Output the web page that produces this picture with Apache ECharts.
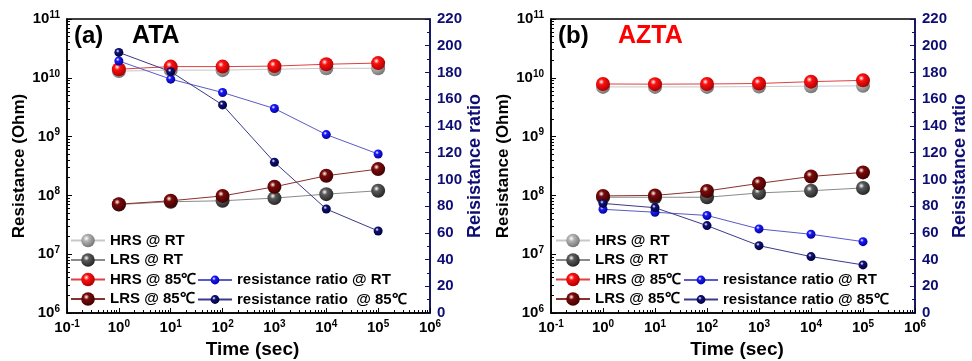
<!DOCTYPE html>
<html><head><meta charset="utf-8">
<script src="https://cdn.jsdelivr.net/npm/echarts@6/dist/echarts.min.js"></script>
<style>html,body{margin:0;padding:0;background:#fff}#c{width:972px;height:361px}</style>
</head><body><div id="c"></div>
<script>
const times = [1, 10, 100, 1000, 10000, 100000];
// Panel (a) ATA
const hrsRT_a = [1.3e10, 1.35e10, 1.35e10, 1.4e10, 1.45e10, 1.45e10];
const lrsRT_a = [7.0e7, 7.8e7, 8.1e7, 9.0e7, 1.05e8, 1.2e8];
const hrs85_a = [1.4e10, 1.55e10, 1.55e10, 1.58e10, 1.7e10, 1.78e10];
const lrs85_a = [7.1e7, 8.1e7, 9.8e7, 1.4e8, 2.16e8, 2.8e8];
const ratioRT_a = [188.6, 175, 165, 153, 133.5, 119];
const ratio85_a = [195, 180.6, 155.7, 112.8, 77.8, 61.4];
// Panel (b) AZTA
const hrsRT_b = [7.0e9, 7.0e9, 7.0e9, 7.1e9, 7.2e9, 7.3e9];
const lrsRT_b = [9.3e7, 9.3e7, 9.3e7, 1.1e8, 1.2e8, 1.34e8];
const hrs85_b = [7.85e9, 7.8e9, 7.85e9, 8.0e9, 8.6e9, 9.05e9];
const lrs85_b = [9.8e7, 1.0e8, 1.19e8, 1.6e8, 2.1e8, 2.46e8];
const ratioRT_b = [77.6, 75.4, 73, 62.9, 58.9, 53.4];
const ratio85_b = [82, 78.8, 65.4, 50.4, 42.2, 36];

const names = ['HRS @ RT', 'LRS @ RT', 'HRS @ 85\u2103', 'LRS @ 85\u2103', 'resistance ratio @ RT', 'resistance ratio @ 85\u2103'];
const namesA6 = 'resistance ratio  @ 85\u2103';

const NAVY = '#0d0d73';
function ball(c, d) {
  return {type:'radial', x:0.38, y:0.35, r:0.72, colorStops:[
    {offset:0, color:'#ffffff'}, {offset:0.28, color:c}, {offset:1, color:d}]};
}
const styles = [
  {line:'#c8c8c8', fill:ball('#b4b4b4','#6e6e6e'), size:14},
  {line:'#8a8a8a', fill:ball('#5a5a5a','#202020'), size:14},
  {line:'#e04040', fill:ball('#ff1010','#a00000'), size:14},
  {line:'#8a3030', fill:ball('#7a0a0a','#3a0000'), size:14},
  {line:'#5a5ac8', fill:ball('#1a1aff','#00008a'), size:9},
  {line:'#3a3a8a', fill:ball('#10107a','#000030'), size:9}
];
function pts(arr){ return times.map((t,i)=>[t, arr[i]]); }

const font = 'Liberation Sans, Arial, sans-serif';
function supFmt(v){
  const e = Math.round(Math.log10(v));
  return '{b|10}{s|' + e + '}';
}
const rich = {
  b:{fontSize:15, fontWeight:'bold', fontFamily:font, color:'#000'},
  s:{fontSize:10, fontWeight:'bold', fontFamily:font, color:'#000', verticalAlign:'top', padding:[0,0,8,0]}
};

const grids = [
  {left:67, top:19, width:363, height:294, show:true, borderColor:'#000', borderWidth:1.5, containLabel:false, outerBoundsMode:'none'},
  {left:551, top:19, width:364, height:294, show:true, borderColor:'#000', borderWidth:1.5, containLabel:false, outerBoundsMode:'none'}
];
const xAxes = [0,1].map(g=>({
  type:'log', logBase:10, min:0.1, max:1e6, gridIndex:g,
  name:'Time (sec)', nameLocation:'middle', nameGap:25,
  nameTextStyle:{fontSize:19, fontWeight:'bold', fontFamily:font, color:'#000', padding:[0,0,0,8]},
  axisLine:{onZero:false, lineStyle:{color:'#000', width:1.5}},
  axisTick:{inside:true, length:5, lineStyle:{color:'#000'}},
  minorTick:{show:true, splitNumber:9, length:3, lineStyle:{color:'#000'}},
  splitLine:{show:false},
  axisLabel:{formatter:supFmt, rich:rich, margin:6}
}));
const yAxes = [];
[0,1].forEach(g=>{
  yAxes.push({
    type:'log', logBase:10, min:1e6, max:1e11, gridIndex:g, position:'left',
    name:'Resistance (Ohm)', nameLocation:'middle', nameGap:36, nameRotate:90,
    nameTextStyle:{fontSize:17, fontWeight:'bold', fontFamily:font, color:'#000'},
    axisLine:{show:true, onZero:false, lineStyle:{color:'#000', width:1.5}},
    axisTick:{inside:true, length:5, lineStyle:{color:'#000'}},
    minorTick:{show:true, splitNumber:9, length:3, lineStyle:{color:'#000'}},
    splitLine:{show:false},
    axisLabel:{formatter:supFmt, rich:rich, margin:7}
  });
  yAxes.push({
    type:'value', min:0, max:220, interval:20, gridIndex:g, position:'right',
    name:'Reisistance ratio', nameLocation:'middle', nameGap:25, nameRotate:90,
    nameTextStyle:{fontSize:18, fontWeight:'bold', fontFamily:font, color:NAVY},
    axisLine:{show:true, onZero:false, lineStyle:{color:NAVY, width:1.5}},
    axisTick:{inside:true, length:5, lineStyle:{color:NAVY}},
    minorTick:{show:true, splitNumber:2, length:3, lineStyle:{color:NAVY}},
    splitLine:{show:false},
    axisLabel:{fontSize:15, fontWeight:'bold', fontFamily:font, color:NAVY, margin:7}
  });
});

const panelData = [
  [hrsRT_a, lrsRT_a, hrs85_a, lrs85_a, ratioRT_a, ratio85_a],
  [hrsRT_b, lrsRT_b, hrs85_b, lrs85_b, ratioRT_b, ratio85_b]
];
const series = [];
panelData.forEach((arrs, g)=>{
  arrs.forEach((arr, k)=>{
    const st = styles[k];
    let nm = names[k];
    if (g===0 && k===5) nm = namesA6;
    series.push({
      type:'line', name:nm, xAxisIndex:g, yAxisIndex: g*2 + (k>=4?1:0),
      data: pts(arr), symbol:'circle', symbolSize:st.size,
      lineStyle:{color:st.line, width:1}, itemStyle:{color:st.fill, borderWidth:0},
      z: 2 + k, animation:false
    });
  });
});

const legendText = {fontSize:15, fontWeight:'bold', fontFamily:font, color:'#000', lineHeight:17};
function lg(left, top, data, ih){
  return {left:left, top:top, orient:'vertical', itemWidth:34, itemHeight:ih, itemGap:2.5,
    data:data, textStyle:legendText, selectedMode:false, padding:0};
}
const legends = [
  lg(70, 232, names.slice(0,4), 17),
  lg(197, 271.5, [names[4], namesA6], 11),
  lg(555, 232, names.slice(0,4), 17),
  lg(683, 271.5, [names[4], names[5]], 11)
];

const titles = [
  {text:'(a)', left:74, top:24, padding:0, textStyle:{fontSize:24, fontWeight:'bold', fontFamily:font, color:'#000'}},
  {text:'ATA', left:132, top:24, padding:0, textStyle:{fontSize:25, fontWeight:'bold', fontFamily:font, color:'#000'}},
  {text:'(b)', left:558, top:24, padding:0, textStyle:{fontSize:24, fontWeight:'bold', fontFamily:font, color:'#000'}},
  {text:'AZTA', left:618, top:24, padding:0, textStyle:{fontSize:25, fontWeight:'bold', fontFamily:font, color:'#ff0000'}}
];

const chart = echarts.init(document.getElementById('c'), null, {renderer:'canvas'});
chart.setOption({
  backgroundColor:'#fff', animation:false,
  title:titles, grid:grids, xAxis:xAxes, yAxis:yAxes, legend:legends, series:series
});
</script></body></html>
